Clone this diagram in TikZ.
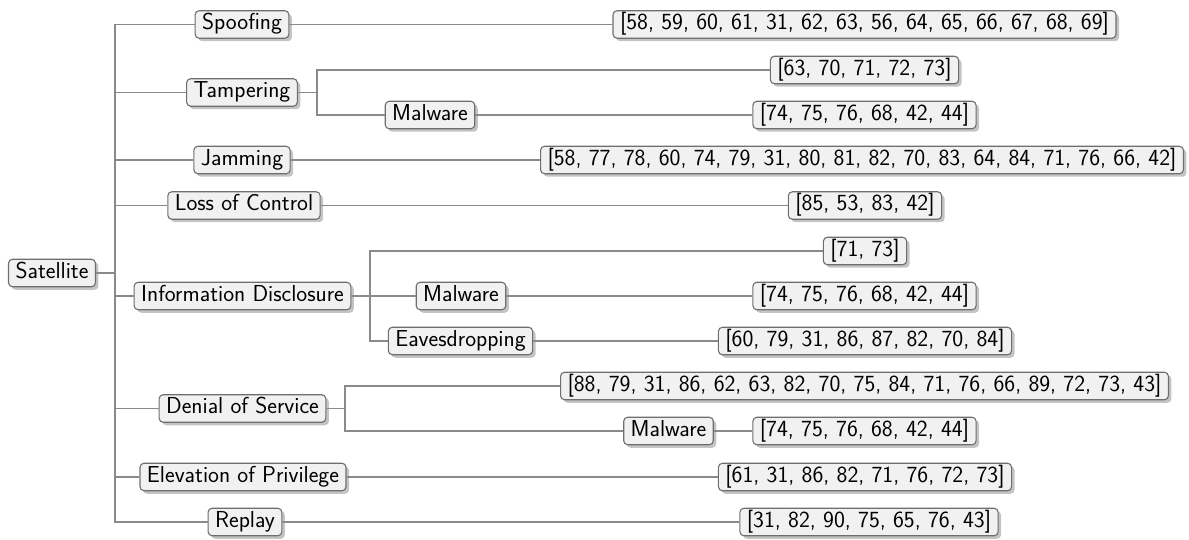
\documentclass[tikz,border=0pt]{standalone}
\usepackage{fontspec}
\usetikzlibrary{shadows}
\definecolor{boxfill}{HTML}{F1F1F1}
\definecolor{boxline}{HTML}{6E6E6E}
\definecolor{wire}{HTML}{8A8A8A}
\definecolor{shade}{HTML}{C4C4C4}
\tikzset{
  item/.style={draw=boxline, line width=1.1pt, fill=boxfill, rounded corners=4pt,
    font=\sffamily\fontsize{23.1}{27}\selectfont, text=black,
    inner xsep=7pt, inner ysep=3pt, text height=16pt, text depth=5.5pt,
    drop shadow={shadow xshift=3pt, shadow yshift=-3pt, fill=shade, opacity=1}},
  wirestyle/.style={draw=wire, line width=1.4pt}
}
\begin{document}
\begin{tikzpicture}[x=1pt, y=-1pt]
\useasboundingbox (0,0) rectangle (1189,540);

% root
\node[item] (sat) at (52,273) {Satellite};

% first level
\node[item] (spoof) at (242,24.5) {Spoofing};
\node[item] (tamp)  at (242,92.5) {Tampering};
\node[item] (jam)   at (242,160) {Jamming};
\node[item] (loss)  at (244,205.5) {Loss of Control};
\node[item] (info)  at (242.5,296) {Information Disclosure};
\node[item] (dos)   at (242.5,408.5) {Denial of Service};
\node[item] (elev)  at (243,477) {Elevation of Privilege};
\node[item] (replay) at (245,522) {Replay};

% second level
\node[item] (tampmal) at (430,115) {Malware};
\node[item] (infomal) at (461,296) {Malware};
\node[item] (eaves)   at (460.5,341) {Eavesdropping};
\node[item] (dosmal)  at (668.5,431) {Malware};

% leaves
\node[item] (lspoof)   at (864.5,24.5) {[58, 59, 60, 61, 31, 62, 63, 56, 64, 65, 66, 67, 68, 69]};
\node[item] (ltamp)    at (864.5,70) {[63, 70, 71, 72, 73]};
\node[item] (ltampmal) at (864.5,115) {[74, 75, 76, 68, 42, 44]};
\node[item] (ljam)     at (862,160) {[58, 77, 78, 60, 74, 79, 31, 80, 81, 82, 70, 83, 64, 84, 71, 76, 66, 42]};
\node[item] (lloss)    at (865,205.5) {[85, 53, 83, 42]};
\node[item] (linfo)    at (865,251) {[71, 73]};
\node[item] (linfomal) at (864.5,296) {[74, 75, 76, 68, 42, 44]};
\node[item] (leaves)   at (865,341) {[60, 79, 31, 86, 87, 82, 70, 84]};
\node[item] (ldos)     at (864.5,386) {[88, 79, 31, 86, 62, 63, 82, 70, 75, 84, 71, 76, 66, 89, 72, 73, 43]};
\node[item] (ldosmal)  at (864.5,431) {[74, 75, 76, 68, 42, 44]};
\node[item] (lelev)    at (865,477) {[61, 31, 86, 82, 71, 76, 72, 73]};
\node[item] (lreplay)  at (869,522) {[31, 82, 90, 75, 65, 76, 43]};

% junction points of the elbow connectors
\coordinate (jroot) at (115,273);
\coordinate (jtamp) at (317,92.5);
\coordinate (jinfo) at (370,296);
\coordinate (jdos)  at (345,408.5);

% root to first level
\draw[wirestyle] (sat.east) -- (jroot);
\foreach \n in {spoof,tamp,jam,loss,info,dos,elev,replay}
  \draw[wirestyle] (jroot) |- (\n.west);

% single-child branches
\draw[wirestyle] (spoof.east) -- (lspoof.west);
\draw[wirestyle] (jam.east) -- (ljam.west);
\draw[wirestyle] (loss.east) -- (lloss.west);
\draw[wirestyle] (elev.east) -- (lelev.west);
\draw[wirestyle] (replay.east) -- (lreplay.west);

% Tampering
\draw[wirestyle] (tamp.east) -- (jtamp);
\draw[wirestyle] (jtamp) |- (ltamp.west);
\draw[wirestyle] (jtamp) |- (tampmal.west);
\draw[wirestyle] (tampmal.east) -- (ltampmal.west);

% Information Disclosure
\draw[wirestyle] (info.east) -- (jinfo);
\draw[wirestyle] (jinfo) |- (linfo.west);
\draw[wirestyle] (jinfo) |- (infomal.west);
\draw[wirestyle] (jinfo) |- (eaves.west);
\draw[wirestyle] (infomal.east) -- (linfomal.west);
\draw[wirestyle] (eaves.east) -- (leaves.west);

% Denial of Service
\draw[wirestyle] (dos.east) -- (jdos);
\draw[wirestyle] (jdos) |- (ldos.west);
\draw[wirestyle] (jdos) |- (dosmal.west);
\draw[wirestyle] (dosmal.east) -- (ldosmal.west);
\end{tikzpicture}
\end{document}
